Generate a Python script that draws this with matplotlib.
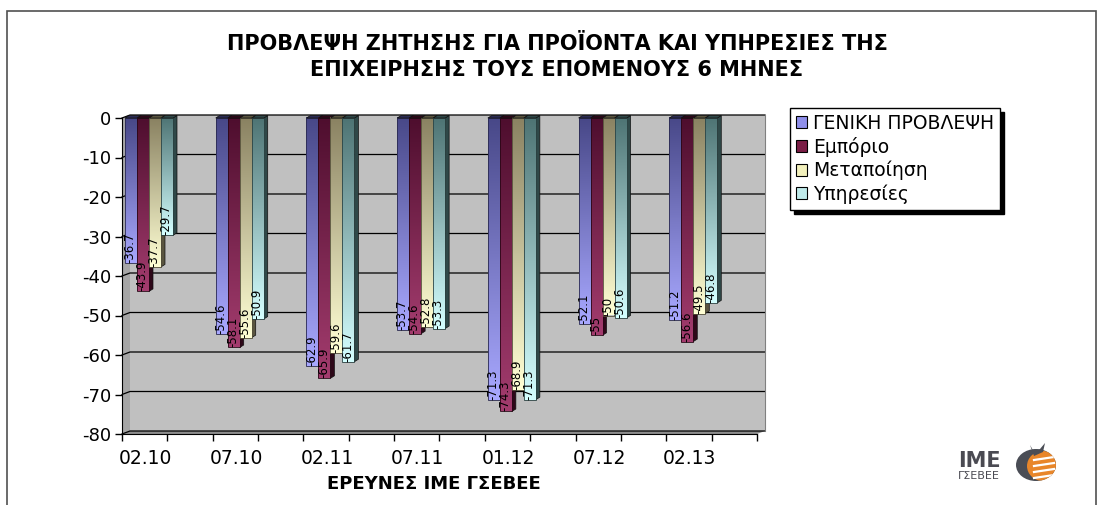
import numpy as np
import matplotlib
matplotlib.use("Agg")
import matplotlib.pyplot as plt
from matplotlib.colors import LinearSegmentedColormap
from matplotlib.patches import Rectangle, Polygon, Patch, Ellipse

plt.rcParams['font.family'] = ['DejaVu Sans']

# ---- data -------------------------------------------------------------
surveys = ["02.10", "07.10", "02.11", "07.11", "01.12", "07.12", "02.13"]
series_names = ["ΓΕΝΙΚΗ ΠΡΟΒΛΕΨΗ", "Εμπόριο", "Μεταποίηση", "Υπηρεσίες"]
general = [-36.7, -54.6, -62.9, -53.7, -71.3, -52.1, -51.2]
trade = [-43.9, -58.1, -65.9, -54.6, -74.3, -55.0, -56.6]
manufacturing = [-37.7, -55.6, -59.6, -52.8, -68.9, -50.0, -49.5]
services = [-29.7, -50.9, -61.7, -53.3, -71.3, -50.6, -46.8]
yticks = list(range(0, -90, -10))

title = "ΠΡΟΒΛΕΨΗ ΖΗΤΗΣΗΣ ΓΙΑ ΠΡΟΪΟΝΤΑ ΚΑΙ ΥΠΗΡΕΣΙΕΣ ΤΗΣ\nΕΠΙΧΕΙΡΗΣΗΣ ΤΟΥΣ ΕΠΟΜΕΝΟΥΣ 6 ΜΗΝΕΣ"
xlabel = "ΕΡΕΥΝΕΣ ΙΜΕ ΓΣΕΒΕΕ"

# ---- styling ------------------------------------------------------------
gradients = [("#484888", "#a8a8ff"),
             ("#4e0e2e", "#a33c6e"),
             ("#8a8262", "#ffffd4"),
             ("#4e7474", "#d4ffff")]
swatches = ["#8f8fea", "#7a1d45", "#f2f0bc", "#bfeaea"]
side_colors = ["#2c2c55", "#2e0819", "#5a5540", "#2f4848"]
edge_colors = ["#2a2a50", "#2a0616", "#55503a", "#2c4444"]

W, H = 1099, 505
fig = plt.figure(figsize=(W / 100, H / 100), dpi=100)
fig.patch.set_facecolor("white")

# outer frame
fig.patches.append(Rectangle((7 / W, -0.05), (1096 - 7) / W, 1.05 - 11 / H,
                             transform=fig.transFigure, fill=False,
                             edgecolor="#505050", lw=1.2, zorder=0))

# ---- axes geometry ------------------------------------------------------
ymin = -80
px_per_unit = (434 - 118) / 80.0
px_per_cat = (757 - 122) / 7.0
wall_dx = 8 / px_per_cat          # depth offset of back wall (x, data units)
wall_dy = 3 / px_per_unit         # depth offset of back wall (y, data units)
top_px = 118 - wall_dy * px_per_unit

ax = fig.add_axes([122 / W, (H - 434) / H, 635 / W, (434 - top_px) / H])
ax.set_facecolor("none")
n = len(surveys)

# walls and floor
ax.add_patch(Polygon([(wall_dx, ymin + wall_dy), (n + wall_dx, ymin + wall_dy),
                      (n + wall_dx, wall_dy), (wall_dx, wall_dy)],
                     closed=True, facecolor="#c0c0c0", edgecolor="none",
                     zorder=0.5, clip_on=False))
ax.add_patch(Polygon([(0, ymin), (0, 0), (wall_dx, wall_dy), (wall_dx, ymin + wall_dy)],
                     closed=True, facecolor="#a6a6a6", edgecolor="none",
                     zorder=0.6, clip_on=False))
ax.add_patch(Polygon([(0, ymin), (n, ymin), (n + wall_dx, ymin + wall_dy),
                      (wall_dx, ymin + wall_dy)],
                     closed=True, facecolor="#8c8c8c", edgecolor="none",
                     zorder=0.6, clip_on=False))

# gridlines on the back wall with short connectors to the axis
for v in yticks:
    ax.plot([0, wall_dx, n + wall_dx], [v, v + wall_dy, v + wall_dy],
            color="black", lw=0.9, zorder=1, clip_on=False)
ax.plot([n + wall_dx, n + wall_dx], [ymin + wall_dy, wall_dy],
        color="#808080", lw=0.8, zorder=1, clip_on=False)

# ---- bars --------------------------------------------------------------
all_series = [general, trade, manufacturing, services]
bar_w = 12 / px_per_cat
group_off = 3 / px_per_cat
bar_dx = 4 / px_per_cat
bar_dy = 2.5 / px_per_unit
grad = np.linspace(0, 1, 128).reshape(-1, 1)

for k, (vals, (c_top, c_bot)) in enumerate(zip(all_series, gradients)):
    cmap = LinearSegmentedColormap.from_list(f"s{k}", [c_top, c_bot])
    base = 3 + k * 0.01
    for i, v in enumerate(vals):
        x0 = i + group_off + k * bar_w
        x1 = x0 + bar_w
        ax.add_patch(Polygon([(x1, 0), (x1 + bar_dx, bar_dy), (x1 + bar_dx, v + bar_dy), (x1, v)],
                             closed=True, facecolor=side_colors[k],
                             edgecolor="#111111", lw=0.5, zorder=base, clip_on=False))
        ax.imshow(grad, cmap=cmap, extent=(x0, x1, v, 0), origin="upper",
                  aspect="auto", interpolation="bilinear", zorder=base + 0.004)
        ax.add_patch(Rectangle((x0, v), bar_w, -v, fill=False,
                               edgecolor=edge_colors[k], lw=0.6, zorder=base + 0.005))
        ax.add_patch(Polygon([(x0, 0), (x0 + bar_dx, bar_dy), (x1 + bar_dx, bar_dy), (x1, 0)],
                             closed=True, facecolor=side_colors[k],
                             edgecolor="#111111", lw=0.5, zorder=base + 0.006, clip_on=False))
        ax.text(x0 + bar_w / 2 - 0.01, v, f"{v:g}", rotation=90, ha="center",
                va="bottom", fontsize=8.5, color="black", zorder=10)

# ---- axes --------------------------------------------------------------
ax.set_xlim(0, n)
ax.set_ylim(ymin, wall_dy)
for s in ["top", "right"]:
    ax.spines[s].set_visible(False)
ax.spines["left"].set_bounds(ymin, 0)
ax.spines["left"].set_color("black")
ax.spines["bottom"].set_color("black")
ax.spines["left"].set_zorder(2)
ax.spines["bottom"].set_zorder(2)

ax.set_yticks(yticks)
ax.set_yticklabels([str(t) for t in yticks], fontsize=13)
ax.tick_params(axis="y", length=5, width=1, pad=3, direction="out")

ax.set_xticks(np.arange(0, n + 0.01, 0.5))
ax.set_xticklabels([])
ax.tick_params(axis="x", which="major", length=5, width=1, direction="out")
ax.set_xticks([i + 0.26 for i in range(n)], surveys, minor=True)
ax.tick_params(axis="x", which="minor", length=0, pad=11, labelsize=13.5)

fig.text(434 / W, 1 - 484 / H, xlabel, ha="center", va="center",
         fontsize=13, fontweight="bold")
fig.text(557 / W, 1 - 34 / H, title, ha="center", va="top",
         fontsize=15, fontweight="bold", linespacing=1.4)

# ---- legend ------------------------------------------------------------
handles = [Patch(facecolor=c, edgecolor="black", lw=0.8) for c in swatches]
leg = fig.legend(handles, series_names, loc="upper left",
                 bbox_to_anchor=(790 / W, 1 - 108 / H), borderaxespad=0,
                 fontsize=13.5, frameon=True, fancybox=False,
                 edgecolor="black", framealpha=1,
                 handlelength=0.6, handleheight=0.6, handletextpad=0.35,
                 labelspacing=0.22, borderpad=0.3,
                 shadow={"color": "black", "alpha": 1.0, "ox": 3, "oy": -3})
leg.get_frame().set_linewidth(1.0)

# ---- logo --------------------------------------------------------------
deco = fig.add_axes([0, 0, 1, 1], zorder=-1)
deco.set_xlim(0, W)
deco.set_ylim(H, 0)
deco.axis("off")
deco.text(958, 467, "IME", fontsize=15, fontweight="bold", color="#4a4a52",
          ha="left", va="baseline")
deco.text(958, 479, "ΓΣΕΒΕΕ", fontsize=8, color="#4a4a52", ha="left", va="baseline")
dark = Ellipse((1036, 465), 40, 32, facecolor="#4a4d55", edgecolor="none")
deco.add_patch(dark)
orange = Ellipse((1043, 466), 32, 30, facecolor="#e8862a", edgecolor="none")
deco.add_patch(orange)
orange.set_clip_path(dark)
for yy in (460, 466, 472, 478):
    ln, = deco.plot([1034, 1054], [yy, yy - 3], color="white", lw=1.6)
    ln.set_clip_path(dark)
deco.add_patch(Polygon([(1030, 445), (1034, 452), (1040, 449), (1045, 443), (1043, 452), (1034, 456)],
                       closed=True, facecolor="#4a4d55", edgecolor="none"))

fig.savefig("out.png", dpi=100, facecolor="white")
